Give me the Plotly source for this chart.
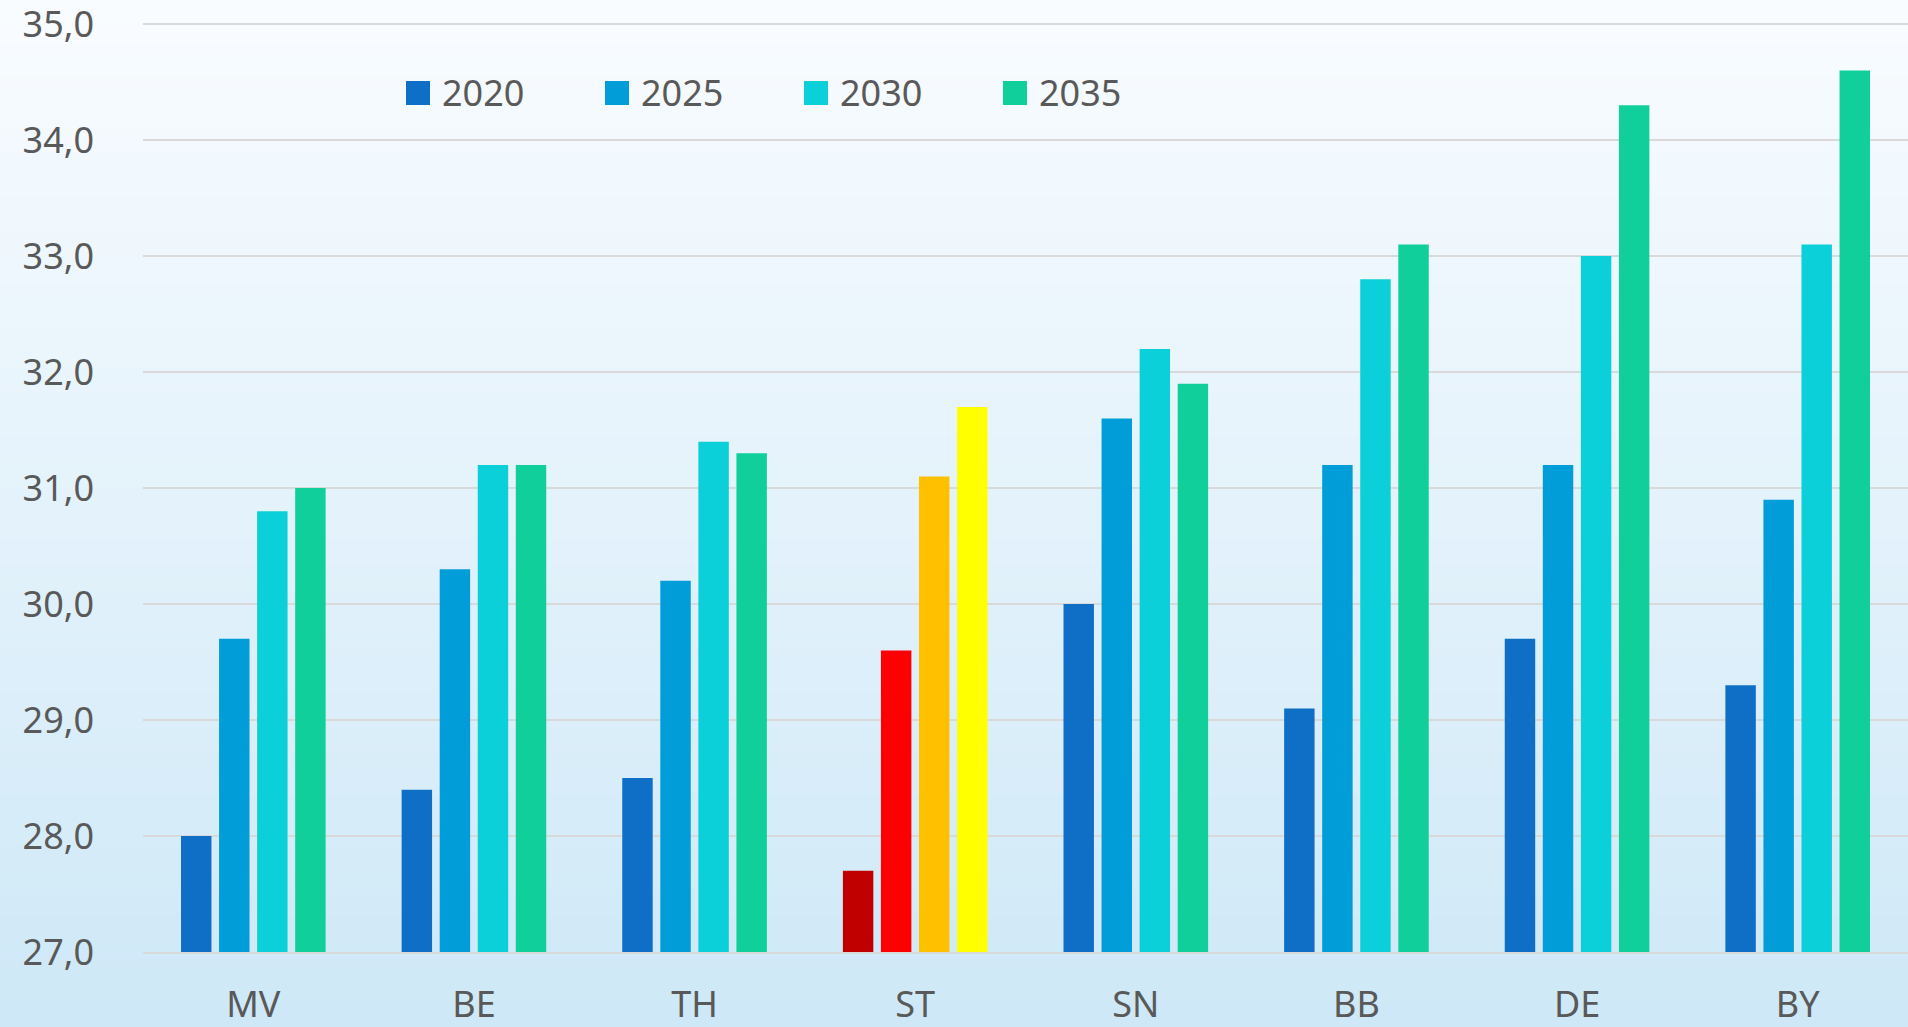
import plotly.graph_objects as go

regions = ['MV', 'BE', 'TH', 'ST', 'SN', 'BB', 'DE', 'BY']
years = ['2020', '2025', '2030', '2035']

v2020 = [28.0, 28.4, 28.5, 27.7, 30.0, 29.1, 29.7, 29.3]
v2025 = [29.7, 30.3, 30.2, 29.6, 31.6, 31.2, 31.2, 30.9]
v2030 = [30.8, 31.2, 31.4, 31.1, 32.2, 32.8, 33.0, 33.1]
v2035 = [31.0, 31.2, 31.3, 31.7, 31.9, 33.1, 34.3, 34.6]

y_ticks = [27, 28, 29, 30, 31, 32, 33, 34, 35]

year_colors = ['#0F6FC6', '#009DD9', '#0BD0D9', '#10CF9B']
st_colors = ['#C00000', '#FF0000', '#FFC000', '#FFFF00']

W, H = 1908, 1027
ML, MR, MT, MB = 143, 0, 23, 75
PW, PH = W - ML - MR, H - MT - MB

fig = go.Figure()
for year, vals, col, st_col in zip(years, [v2020, v2025, v2030, v2035], year_colors, st_colors):
    colors = [st_col if r == 'ST' else col for r in regions]
    fig.add_trace(go.Bar(
        x=regions, y=vals, name=year,
        marker=dict(color=colors, line=dict(width=0)),
        showlegend=False,
    ))

shapes = []
# background gradient, light at top to pale blue at bottom
top = (249, 252, 255)
bot = (206, 232, 247)
n = 120
y_lo = -MB / PH
y_hi = 1 + MT / PH
for i in range(n):
    t = i / (n - 1)
    c = tuple(round(bot[k] + (top[k] - bot[k]) * t) for k in range(3))
    shapes.append(dict(
        type='rect', xref='paper', yref='paper', layer='below',
        x0=-ML / PW, x1=1.0,
        y0=y_lo + (y_hi - y_lo) * i / n, y1=y_lo + (y_hi - y_lo) * (i + 1) / n + 0.002,
        fillcolor='rgb(%d,%d,%d)' % c, line=dict(width=0),
    ))

# legend drawn by hand so the swatches can be large
annotations = []
leg_x0, leg_step, leg_y = 406, 199, 93
for i, (year, col) in enumerate(zip(years, year_colors)):
    px0 = leg_x0 + i * leg_step
    shapes.append(dict(
        type='rect', xref='paper', yref='paper',
        x0=(px0 - ML) / PW, x1=(px0 + 24 - ML) / PW,
        y0=(H - MB - (leg_y + 12)) / PH, y1=(H - MB - (leg_y - 12)) / PH,
        fillcolor=col, line=dict(width=0),
    ))
    annotations.append(dict(
        xref='paper', yref='paper', x=(px0 + 34 - ML) / PW, y=(H - MB - leg_y) / PH,
        text=year, showarrow=False, xanchor='left', yanchor='middle',
        font=dict(size=36, color='#595959'),
    ))

fig.update_layout(
    width=W, height=H,
    margin=dict(l=ML, r=MR, t=MT, b=MB, autoexpand=False),
    paper_bgcolor='#e4f2fb',
    plot_bgcolor='rgba(0,0,0,0)',
    font=dict(family='Noto Sans', size=36, color='#595959'),
    separators=', ',
    barmode='group',
    bargap=0.31,
    bargroupgap=0.2,
    shapes=shapes,
    annotations=annotations,
    showlegend=False,
    xaxis=dict(
        showgrid=False, showline=True, linecolor='#d9d9d9', linewidth=2,
        ticks='', ticklabelstandoff=20, automargin=False,
        ticklabeloverflow='allow',
        tickfont=dict(size=36, color='#595959'),
    ),
    yaxis=dict(
        range=[27, 35.01], tickmode='array', tickvals=y_ticks,
        ticktext=[('%.1f' % v).replace('.', ',') for v in y_ticks],
        showgrid=True, gridcolor='#d9d9d9', gridwidth=1.5,
        zeroline=False, showline=False, ticks='',
        ticklabelstandoff=48, automargin=False,
        ticklabeloverflow='allow',
        tickfont=dict(size=36, color='#595959'),
    ),
)

fig.write_html('out.html', config={'displayModeBar': False},
               post_script="document.body.style.margin='0';")
